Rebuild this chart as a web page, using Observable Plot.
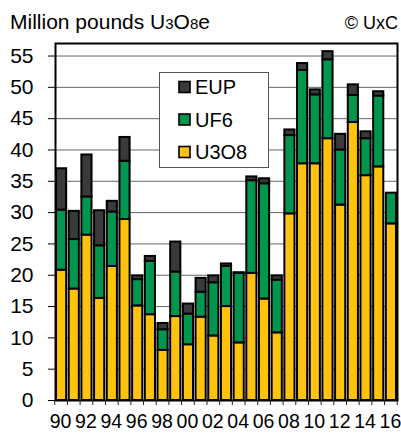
<!DOCTYPE html>
<html><head><meta charset="utf-8">
<script src="https://cdn.jsdelivr.net/npm/d3@7"></script>
<script src="https://cdn.jsdelivr.net/npm/@observablehq/plot@0.6"></script>
<style>
body{margin:0;background:#fff;}
svg{font-family:Arial,"Liberation Sans",sans-serif;}
</style>
</head><body><div id="chart"></div>
<script>
const years = [1990,1991,1992,1993,1994,1995,1996,1997,1998,1999,2000,2001,2002,2003,2004,2005,2006,2007,2008,2009,2010,2011,2012,2013,2014,2015,2016];
const u3o8 = [20.8,17.8,26.4,16.3,21.4,28.9,15.1,13.7,8.0,13.4,8.9,13.3,10.3,15.0,9.2,20.3,16.2,10.8,29.8,37.8,37.8,41.8,31.2,44.4,35.9,37.3,28.2];
const uf6  = [9.6,7.9,6.1,8.4,8.7,9.3,4.2,8.5,3.3,7.1,4.9,4.0,8.5,6.4,11.1,14.8,18.4,8.4,12.5,14.9,11.0,12.6,8.8,4.3,5.9,11.3,4.9];
const eup  = [6.6,4.5,6.7,5.6,1.7,3.8,0.6,0.8,1.0,4.8,1.6,2.2,1.1,0.4,0.1,0.6,0.8,0.7,0.9,1.1,0.8,1.3,2.5,1.7,1.1,0.7,0.0];
const series = ["U3O8","UF6","EUP"];
const colors = ["#FFC20E","#00964F","#3A3A3A"];
const legendOrder = ["EUP","UF6","U3O8"];
const yTicks = [0,5,10,15,20,25,30,35,40,45,50,55];
const xLabelYears = years.filter(y => y % 2 === 0);

const data = years.flatMap((y, i) => [
  {year: y, type: "U3O8", value: u3o8[i]},
  {year: y, type: "UF6", value: uf6[i]},
  {year: y, type: "EUP", value: eup[i]}
]);

const W = 401, H = 433;
const ML = 55, MR = 4, MT = 43, MB = 33;
const PI = 0.2, PO = 0.08;
const plot = Plot.plot({
  width: W, height: H,
  marginLeft: ML, marginRight: MR, marginTop: MT, marginBottom: MB,
  style: {fontFamily: "Arial, 'Liberation Sans', sans-serif", background: "white", color: "black"},
  x: {type: "band", domain: years, paddingInner: PI, paddingOuter: PO, round: false},
  y: {domain: [0, 57]},
  color: {domain: series, range: colors},
  marks: [
    Plot.ruleY(yTicks.slice(1), {stroke: "#666", strokeWidth: 1}),
    Plot.barY(data, Plot.stackY({order: series}, {x: "year", y: "value", fill: "type", stroke: "black", strokeWidth: 2})),
    Plot.axisY({ticks: yTicks, tickSize: 7, tickPadding: 15, fontSize: 21, label: null, stroke: "black"}),
    Plot.axisX({ticks: xLabelYears, tickFormat: d => String(d).slice(2), tickSize: 0, tickPadding: 14, fontSize: 19.5, dx: -1, label: null}),
    Plot.frame({stroke: "black", strokeWidth: 2})
  ]
});

const svg = d3.select(plot);
const stepPx = (W - MR - ML) / (years.length - PI + 2 * PO);
const x0 = ML + stepPx * PO - stepPx * PI / 2;
const bounds = d3.range(years.length + 1).map(i => x0 + i * stepPx);
const yScale = v => (H - MB) - v / 57 * (H - MB - MT);
const y0 = yScale(0);
// bottom ticks between bars
svg.append("g").selectAll("line").data(bounds).join("line")
  .attr("x1", d => d).attr("x2", d => d).attr("y1", y0).attr("y2", y0 + 5)
  .attr("stroke", "#222").attr("stroke-width", 1);

// Title
const t = svg.append("text").attr("x", 10).attr("y", 29).attr("font-size", 21).attr("fill", "black").attr("text-anchor", "start");
t.append("tspan").text("Million pounds U");
t.append("tspan").attr("font-size", 15).text("3");
t.append("tspan").text("O");
t.append("tspan").attr("font-size", 15).text("8");
t.append("tspan").text("e");
svg.append("text").attr("x", 398).attr("y", 29).attr("text-anchor", "end").attr("font-size", 18).attr("fill", "black").text("© UxC");

// Legend
const lg = svg.append("g");
lg.append("rect").attr("x", 159.5).attr("y", 72.5).attr("width", 109).attr("height", 95).attr("fill", "white").attr("stroke", "#555").attr("stroke-width", 1);
legendOrder.forEach((s, i) => {
  const cy = 87 + i * 32.5;
  lg.append("rect").attr("x", 179).attr("y", cy - 5.5).attr("width", 11).attr("height", 11)
    .attr("fill", colors[series.indexOf(s)]).attr("stroke", "black").attr("stroke-width", 1.6);
  lg.append("text").attr("x", 195).attr("y", cy + 7).attr("font-size", 20).attr("fill", "black").attr("text-anchor", "start").text(s);
});

document.getElementById("chart").appendChild(plot);
</script>
</body></html>
